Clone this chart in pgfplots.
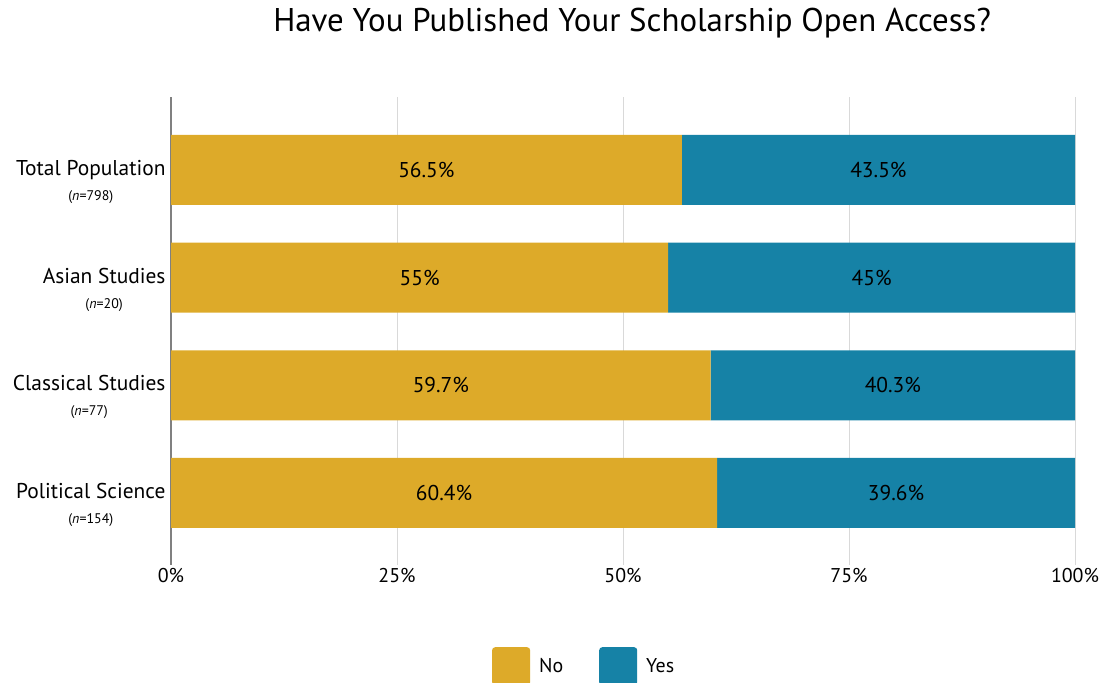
\documentclass[border=0pt]{standalone}
\usepackage{fontspec}
\setmainfont{PT Sans}
\usepackage{pgfplots}
\pgfplotsset{compat=1.18}
\definecolor{cno}{RGB}{221,170,41}
\definecolor{cyes}{RGB}{22,130,166}
\newcommand{\lab}[2]{#1\\[1bp]{\fontsize{14}{15}\selectfont(\textit{n}=#2)}}
\begin{document}
\begin{tikzpicture}[x=1bp,y=1bp]
\useasboundingbox (0,0) rectangle (1104,683);
\begin{axis}[
  at={(171bp,118bp)}, anchor=south west,
  scale only axis, width=904bp, height=468bp,
  xbar stacked, bar width=70bp,
  xmin=0, xmax=100, ymin=-0.669, ymax=3.678,
  xtick={0,25,50,75,100},
  xticklabel={\pgfmathprintnumber{\tick}\%},
  ytick={0,1,2,3},
  yticklabels={\lab{Political Science}{154},\lab{Classical Studies}{77},\lab{Asian Studies}{20},\lab{Total Population}{798}},
  yticklabel style={align=center, font=\fontsize{21.5}{24}\selectfont, yshift=-12bp, xshift=-2bp},
  xticklabel style={font=\fontsize{20}{24}\selectfont},
  /pgf/number format/assume math mode=true,
  major tick length=0pt,
  axis lines=left, axis line style={-},
  x axis line style={draw=none},
  y axis line style={draw=black!50, line width=1.5bp},
  xmajorgrids, grid style={black!15, line width=1bp},
  title={Have You Published Your Scholarship Open Access?},
  title style={at={(0.51,1)}, anchor=center, yshift=68bp, font=\fontsize{33}{38}\selectfont},
  legend style={at={(0.457,-0.171)}, anchor=north, draw=none, legend columns=2,
    font=\fontsize{20}{24}\selectfont,
    /tikz/every even column/.append style={column sep=34bp}},
]
\addplot[fill=cno, draw=none, legend image code/.code={\fill[cno, rounded corners=3bp] (0bp,-19bp) rectangle (38bp,19bp);}]
  coordinates {(60.4,0) (59.7,1) (55,2) (56.5,3)};
\addlegendentry{\hspace{7bp}No}
\addplot[fill=cyes, draw=none, legend image code/.code={\fill[cyes, rounded corners=3bp] (0bp,-19bp) rectangle (38bp,19bp);}]
  coordinates {(39.6,0) (40.3,1) (45,2) (43.5,3)};
\addlegendentry{\hspace{7bp}Yes}
\end{axis}
\begin{axis}[
  at={(171bp,118bp)}, anchor=south west,
  scale only axis, width=904bp, height=468bp,
  xmin=0, xmax=100, ymin=-0.669, ymax=3.678,
  hide axis,
]
\addplot[only marks, mark=none, nodes near coords, point meta=explicit symbolic,
  every node near coord/.style={anchor=center, font=\fontsize{21.5}{24}\selectfont, text=black}]
  coordinates {(30.2,0) [60.4\%] (29.85,1) [59.7\%] (27.5,2) [55\%] (28.25,3) [56.5\%]
               (80.2,0) [39.6\%] (79.85,1) [40.3\%] (77.5,2) [45\%] (78.25,3) [43.5\%]};
\end{axis}
\end{tikzpicture}
\end{document}
